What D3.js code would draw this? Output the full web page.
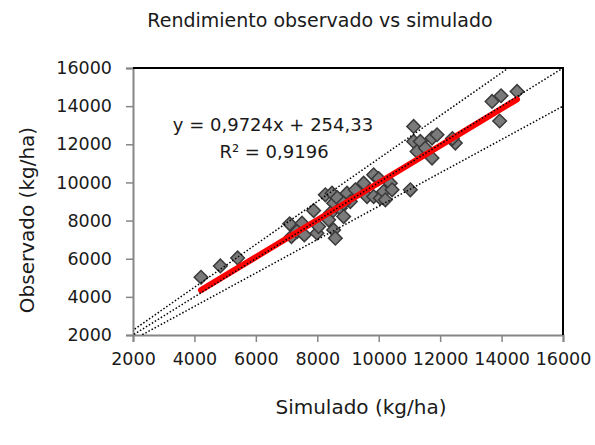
<!DOCTYPE html>
<html>
<head>
<meta charset="utf-8">
<script src="https://cdn.jsdelivr.net/npm/d3@7"></script>
<style>
  body { margin: 0; background: #fff; }
  svg text { font-family: "DejaVu Sans", sans-serif; fill: #1a1a1a; }
</style>
</head>
<body>
<svg id="chart" width="595" height="445"></svg>
<script>
var simulado = [4214, 4843, 5406,
  7100, 7160, 7503, 7340, 7578, 7990, 7881, 8044, 8262, 8480, 8532, 8425, 8750, 8858, 8369, 8532, 8588, 8650,
  8968, 9076, 8858, 9239, 9510, 9620, 9835, 9835, 10053, 10160, 10378, 10434, 10216, 10000, 11030,
  11137, 11137, 11355, 11248, 11518, 11736, 11899, 11736, 12495, 12400,
  13690, 13983, 14504, 13938];
var observado = [5029, 5622, 6042,
  7827, 7160, 7864, 7423, 7249, 7339, 8525, 7685, 9349, 9438, 8913, 8388, 8651, 8210, 8037, 7512, 7076, 9200,
  9438, 8998, 8913, 9612, 9963, 9260, 9260, 10399, 9176, 9522, 9963, 9612, 9087, 10200, 9612,
  12935, 12150, 12150, 11622, 11800, 12325, 12499, 11276, 12063, 12300,
  14247, 14546, 14771, 13220];
var axisTicks = [2000, 4000, 6000, 8000, 10000, 12000, 14000, 16000];
var trendSlope = 0.9724, trendIntercept = 254.33;
var refSlopes = [1.125, 1, 0.875];

(function () {
  var svg = d3.select('#chart');
  var pLeft = 133, pRight = 563, pTop = 68, pBottom = 335;

  var x = d3.scaleLinear().domain([2000, 16000]).range([pLeft, pRight]);
  var y = d3.scaleLinear().domain([2000, 16000]).range([pBottom, pTop]);

  // Title
  svg.append('text')
      .attr('x', 320).attr('y', 27)
      .attr('text-anchor', 'middle')
      .style('font-size', '19px')
      .text('Rendimiento observado vs simulado');

  svg.append('defs').append('clipPath').attr('id', 'plot-clip')
    .append('rect')
      .attr('x', pLeft).attr('y', pTop)
      .attr('width', pRight - pLeft).attr('height', pBottom - pTop);

  // Axes
  var yAxis = svg.append('g')
      .attr('transform', 'translate(' + pLeft + ',0)')
      .call(d3.axisLeft(y).tickValues(axisTicks).tickSize(7).tickPadding(14).tickFormat(d3.format('d')));
  var xAxis = svg.append('g')
      .attr('transform', 'translate(0,' + pBottom + ')')
      .call(d3.axisBottom(x).tickValues(axisTicks).tickSize(7).tickPadding(11).tickFormat(d3.format('d')));
  [xAxis, yAxis].forEach(function (ax) {
    ax.select('.domain').attr('stroke', '#868686').attr('stroke-width', 2);
    ax.selectAll('.tick line').attr('stroke', '#868686').attr('stroke-width', 1.5);
    ax.selectAll('.tick text').style('font-size', '17.5px').attr('fill', '#1a1a1a');
  });

  // Top and right frame
  svg.append('path')
      .attr('d', 'M' + pLeft + ',' + pTop + 'H' + pRight + 'V' + pBottom)
      .attr('fill', 'none')
      .attr('stroke', '#000')
      .attr('stroke-width', 2);

  var plot = svg.append('g').attr('clip-path', 'url(#plot-clip)');

  // Points
  var pts = simulado.map(function (s, i) { return { s: s, o: observado[i] }; });
  plot.selectAll('path.pt')
      .data(pts)
      .enter()
      .append('path')
      .classed('pt', true)
      .attr('d', d3.symbol(d3.symbolSquare, 92))
      .attr('transform', function (d) { return 'translate(' + x(d.s) + ',' + y(d.o) + ') rotate(45)'; })
      .attr('fill', '#7a7a7a')
      .attr('stroke', '#3a3a3a')
      .attr('stroke-width', 1.5);

  // Trend line
  var xMin = d3.min(simulado), xMax = d3.max(simulado);
  plot.append('line')
      .attr('x1', x(xMin)).attr('y1', y(trendSlope * xMin + trendIntercept))
      .attr('x2', x(xMax)).attr('y2', y(trendSlope * xMax + trendIntercept))
      .attr('stroke', '#ff0000')
      .attr('stroke-width', 6)
      .attr('stroke-linecap', 'round');

  // Reference lines (1:1 and band)
  plot.selectAll('line.ref')
      .data(refSlopes)
      .enter()
      .append('line')
      .classed('ref', true)
      .attr('x1', x(0)).attr('y1', y(0))
      .attr('x2', x(16000)).attr('y2', function (k) { return y(16000 * k); })
      .attr('stroke', '#000')
      .attr('stroke-width', 1.5)
      .attr('stroke-dasharray', '1.5,2');

  // Equation
  svg.append('text')
      .attr('x', 273).attr('y', 131)
      .attr('text-anchor', 'middle')
      .style('font-size', '18px')
      .text('y = 0,9724x + 254,33');
  svg.append('text')
      .attr('x', 274).attr('y', 158)
      .attr('text-anchor', 'middle')
      .style('font-size', '18px')
      .text('R² = 0,9196');

  // Axis titles
  svg.append('text')
      .attr('transform', 'translate(34,220) rotate(-90)')
      .attr('text-anchor', 'middle')
      .style('font-size', '20px')
      .text('Observado (kg/ha)');
  svg.append('text')
      .attr('x', 361).attr('y', 414)
      .attr('text-anchor', 'middle')
      .style('font-size', '20px')
      .text('Simulado (kg/ha)');
})();
</script>
</body>
</html>
